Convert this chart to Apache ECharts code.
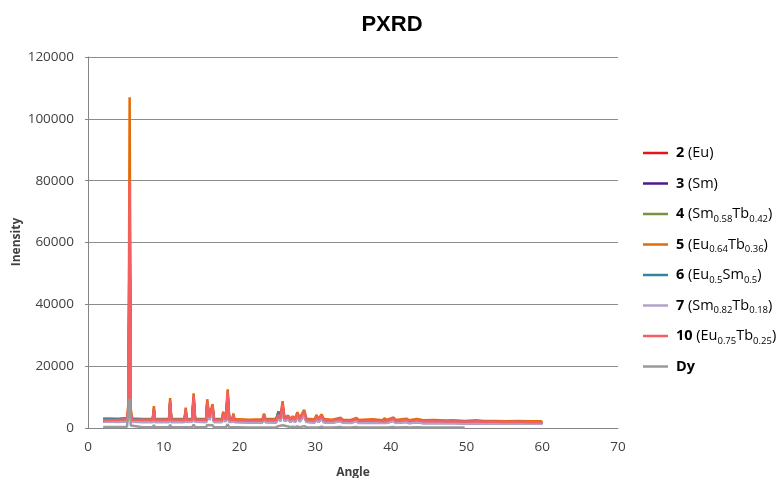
<!DOCTYPE html>
<html>
<head>
<meta charset="utf-8">
<script src="https://cdn.jsdelivr.net/npm/echarts@6/dist/echarts.min.js"></script>
<style>
html,body{margin:0;padding:0;background:#fff;}
#chart{width:784px;height:478px;}
</style>
</head>
<body>
<div id="chart"></div>
<script>
// Shared 2-theta angles (degrees)
const angles = [
  2, 3, 4, 5.15, 5.35, 5.5, 5.65, 5.85, 7.25, 8.55,
  8.7, 8.85, 10.7, 10.85, 11.0, 12.75, 12.9, 13.05, 13.75, 13.95,
  14.15, 15.6, 15.75, 16.0, 16.45, 16.65, 17.7, 17.85, 18.2, 18.45,
  18.65, 19.05, 19.2, 19.35, 21.25, 23.05, 23.25, 23.45, 24.85, 25.15,
  25.4, 25.7, 25.95, 26.45, 26.75, 27.05, 27.35, 27.65, 27.95, 28.55,
  28.85, 29.95, 30.15, 30.45, 30.85, 31.15, 32.25, 33.35, 33.65, 34.75,
  35.45, 35.75, 37.55, 38.95, 39.15, 39.45, 40.35, 40.65, 42.05, 42.45,
  43.45, 44.25, 45.75, 47.25, 48.25, 49.75, 51.25, 52.25, 53.75, 55.25,
  56.75, 58.25, 59.75, 60
];

const s2Eu = [
  2400, 2450, 2400, 2650, 6000, 72000, 4500, 2550, 2400, 2400,
  5900, 2400, 2400, 8200, 2400, 2400, 5600, 2400, 2500, 9600,
  2500, 2400, 8000, 3200, 6400, 2400, 2400, 4400, 2500, 10800,
  2500, 2400, 3900, 2400, 2250, 2300, 3900, 2400, 2350, 4000,
  2750, 7300, 2750, 3400, 2500, 3200, 2500, 4300, 2700, 5000,
  2500, 2300, 3600, 2500, 3700, 2400, 2250, 2750, 2250, 2150,
  2750, 2150, 2300, 2050, 2650, 2150, 2850, 2150, 2500, 2050,
  2400, 2050, 2150, 1950, 2050, 1850, 2050, 1850, 1850, 1800,
  1850, 1750, 1750, 1700
];
const s3Sm = [
  2100, 2100, 2050, 2300, 4500, 55000, 3800, 2100, 2000, 2000,
  5000, 2000, 2000, 6800, 2000, 2000, 4700, 2000, 2100, 8200,
  2100, 2000, 6800, 2700, 5300, 2000, 2000, 3700, 2050, 9000,
  2050, 2000, 3400, 2000, 1900, 1900, 3400, 1950, 1900, 3700,
  2300, 6100, 2300, 2800, 2000, 2600, 2000, 3700, 2100, 4200,
  2000, 1850, 3000, 2000, 3100, 1900, 1800, 2300, 1800, 1750,
  2300, 1750, 1800, 1700, 2200, 1700, 2400, 1700, 2000, 1650,
  1950, 1650, 1700, 1600, 1650, 1550, 1650, 1500, 1500, 1500,
  1500, 1450, 1450, 1400
];
const s4SmTb = [
  2700, 2700, 2650, 2850, 5000, 56000, 4000, 2650, 2500, 2450,
  5400, 2450, 2450, 7600, 2450, 2450, 5100, 2450, 2550, 9000,
  2550, 2450, 7500, 3100, 5900, 2450, 2450, 4100, 2500, 9800,
  2500, 2400, 3700, 2400, 2250, 2300, 3700, 2350, 2350, 5000,
  2800, 6700, 2700, 3100, 2450, 2900, 2450, 4100, 2600, 4700,
  2450, 2250, 3300, 2450, 3400, 2350, 2200, 2600, 2200, 2100,
  2600, 2100, 2200, 2000, 2500, 2050, 2700, 2050, 2350, 2000,
  2250, 1950, 2050, 1900, 1950, 1800, 1900, 1750, 1750, 1700,
  1750, 1650, 1650, 1600
];
const s5EuTb = [
  2900, 2950, 2900, 3200, 8000, 107000, 6000, 3100, 2900, 2900,
  7100, 2900, 2900, 9700, 2900, 2900, 6600, 2900, 3000, 11200,
  3000, 2900, 9300, 3800, 7700, 2900, 2900, 5300, 3000, 12500,
  3000, 2900, 4700, 2900, 2700, 2800, 4700, 2900, 2900, 5000,
  3300, 8700, 3300, 4000, 3000, 3800, 3000, 5100, 3200, 5900,
  3000, 2800, 4200, 3000, 4400, 2900, 2700, 3300, 2700, 2600,
  3300, 2600, 2800, 2500, 3200, 2600, 3400, 2600, 3000, 2500,
  2900, 2500, 2600, 2400, 2500, 2300, 2500, 2300, 2300, 2200,
  2300, 2200, 2200, 2100
];
const s6EuSm = [
  3000, 3000, 2900, 3100, 5000, 60000, 4000, 2900, 2700, 2650,
  5800, 2650, 2650, 8000, 2650, 2650, 5400, 2650, 2750, 9400,
  2750, 2650, 7900, 3300, 6200, 2650, 2650, 4300, 2700, 10300,
  2700, 2600, 3900, 2600, 2450, 2500, 3900, 2550, 2550, 5400,
  3000, 7000, 2900, 3300, 2650, 3100, 2650, 4300, 2800, 4900,
  2650, 2450, 3500, 2650, 3600, 2550, 2400, 2800, 2400, 2300,
  2800, 2300, 2400, 2200, 2700, 2250, 2900, 2250, 2550, 2200,
  2450, 2150, 2250, 2100, 2150, 2000, 2100, 1950, 1950, 1900,
  1950, 1850, 1850, 1800
];
const s7SmTb = [
  2000, 2000, 1950, 2200, 4000, 50000, 3500, 2000, 1900, 1900,
  4800, 1900, 1900, 6500, 1900, 1900, 4500, 1900, 2000, 7800,
  2000, 1900, 6500, 2600, 5000, 1900, 1900, 3500, 1950, 8500,
  1950, 1900, 3200, 1900, 1800, 1800, 3200, 1850, 1800, 3500,
  2200, 5800, 2200, 2700, 1900, 2500, 1900, 3500, 2000, 4000,
  1900, 1750, 2900, 1900, 3000, 1800, 1700, 2200, 1700, 1650,
  2200, 1650, 1700, 1600, 2100, 1600, 2300, 1600, 1900, 1550,
  1850, 1550, 1600, 1500, 1550, 1450, 1550, 1400, 1400, 1400,
  1400, 1350, 1350, 1300
];
const s10EuTb = [
  2500, 2600, 2550, 2800, 7000, 80000, 5000, 2700, 2550, 2550,
  6300, 2550, 2550, 8800, 2550, 2550, 6000, 2550, 2650, 10300,
  2650, 2550, 8500, 3400, 6900, 2550, 2550, 4700, 2650, 11500,
  2650, 2550, 4200, 2550, 2400, 2450, 4200, 2550, 2500, 4300,
  2900, 7800, 2900, 3600, 2650, 3400, 2650, 4600, 2850, 5300,
  2650, 2450, 3800, 2650, 3900, 2550, 2400, 2900, 2400, 2300,
  2900, 2300, 2450, 2200, 2800, 2300, 3000, 2300, 2650, 2200,
  2550, 2200, 2300, 2100, 2200, 2000, 2200, 2000, 2000, 1950,
  2000, 1900, 1900, 1850
];
const sDy = [
  300, 300, 300, 400, 1000, 9500, 800, 300, 250, 250,
  900, 250, 250, 1000, 250, 250, 700, 250, 250, 1100,
  250, 250, 1000, 400, 900, 250, 250, 600, 250, 1200,
  250, 250, 600, 250, 200, 200, 500, 200, 200, 600,
  300, 900, 300, 500, 250, 450, 250, 500, 250, 600,
  250, 200, 400, 200, 450, 200, 200, 300, 200, 200,
  300, 200, 200, 200, 300, 200, 350, 200, 250, 200,
  250, 200, 200, 200, 200, 200, null, null, null, null,
  null, null, null, null
];

const seriesNames = ['2 (Eu)', '3 (Sm)', '4 (Sm0.58Tb0.42)', '5 (Eu0.64Tb0.36)',
  '6 (Eu0.5Sm0.5)', '7 (Sm0.82Tb0.18)', '10 (Eu0.75Tb0.25)', 'Dy'];
const legendRich = [
  '{b|2} {n|(Eu)}',
  '{b|3} {n|(Sm)}',
  '{b|4} {n|(Sm}{s|0.58}{n|Tb}{s|0.42}{n|)}',
  '{b|5} {n|(Eu}{s|0.64}{n|Tb}{s|0.36}{n|)}',
  '{b|6} {n|(Eu}{s|0.5}{n|Sm}{s|0.5}{n|)}',
  '{b|7} {n|(Sm}{s|0.82}{n|Tb}{s|0.18}{n|)}',
  '{b|10} {n|(Eu}{s|0.75}{n|Tb}{s|0.25}{n|)}',
  '{b|Dy}'
];
const seriesValues = [s2Eu, s3Sm, s4SmTb, s5EuTb, s6EuSm, s7SmTb, s10EuTb, sDy];
const colors = ['#E3141E', '#4B1C8C', '#77933C', '#E36C09', '#31859C', '#B3A2C7', '#F45F63', '#9A9A9A'];
const xTicks = [0, 10, 20, 30, 40, 50, 60, 70];
const yTicks = [0, 20000, 40000, 60000, 80000, 100000, 120000];
const xAxisTitle = 'Angle';
const yAxisTitle = 'Inensity';

const FONT = "'Open Sans', 'Liberation Sans', sans-serif";
const chart = echarts.init(document.getElementById('chart'), null, {renderer: 'canvas'});

const series = seriesNames.map((name, i) => ({
  name: name,
  type: 'line',
  showSymbol: false,
  symbol: 'none',
  color: colors[i],
  lineStyle: {width: 2.5, color: colors[i]},
  data: angles.map((a, j) => [a, seriesValues[i][j]]),
  connectNulls: false,
  animation: false
}));

chart.setOption({
  animation: false,
  backgroundColor: '#ffffff',
  title: {
    text: 'PXRD',
    left: 'center',
    top: 9,
    textStyle: {fontFamily: "'Liberation Sans', sans-serif", fontWeight: 'bold', fontSize: 22, color: '#000'}
  },
  grid: {left: 88, right: 166, top: 57, bottom: 50, outerBoundsMode: 'none', containLabel: false},
  graphic: [{
    type: 'text',
    x: 17,
    y: 242,
    rotation: Math.PI / 2,
    style: {
      text: yAxisTitle,
      align: 'center',
      verticalAlign: 'middle',
      font: "bold 12px 'Open Sans', 'Liberation Sans', sans-serif",
      fill: '#404040'
    }
  }],
  legend: {
    orient: 'vertical',
    left: 638,
    top: 138,
    itemWidth: 25,
    itemHeight: 2.5,
    itemGap: 10.5,
    icon: 'rect',
    data: seriesNames,
    formatter: function (name) { return legendRich[seriesNames.indexOf(name)]; },
    textStyle: {
      fontFamily: FONT,
      fontSize: 14,
      color: '#000',
      height: 20,
      lineHeight: 20,
      padding: [0, 0, 0, 3],
      rich: {
        b: {fontFamily: FONT, fontWeight: 'bold', fontSize: 14.5, lineHeight: 20, color: '#000'},
        n: {fontFamily: FONT, fontSize: 14.5, lineHeight: 20, color: '#000'},
        s: {fontFamily: FONT, fontSize: 9.5, lineHeight: 13, verticalAlign: 'bottom', color: '#000'}
      }
    }
  },
  xAxis: {
    type: 'value',
    min: 0,
    max: 70,
    interval: 10,
    name: xAxisTitle,
    nameLocation: 'middle',
    nameGap: 39,
    nameTextStyle: {fontFamily: FONT, fontWeight: 'bold', fontSize: 12, color: '#404040'},
    axisLine: {show: true, lineStyle: {color: '#868686', width: 1}},
    axisTick: {show: false},
    splitLine: {show: false},
    axisLabel: {
      fontFamily: FONT, fontSize: 13.5, color: '#404040', margin: 12,
      formatter: function (v) { return xTicks.indexOf(v) >= 0 ? String(v) : ''; }
    }
  },
  yAxis: {
    type: 'value',
    min: 0,
    max: 120000,
    interval: 20000,
    axisLine: {show: true, lineStyle: {color: '#868686', width: 1}},
    axisTick: {show: true, length: 3, lineStyle: {color: '#868686'}},
    splitLine: {show: true, lineStyle: {color: '#8c8c8c', width: 1}},
    axisLabel: {
      fontFamily: FONT, fontSize: 13.5, color: '#404040', margin: 14,
      formatter: function (v) { return yTicks.indexOf(v) >= 0 ? String(v) : ''; }
    }
  },
  series: series
});
</script>
</body>
</html>
